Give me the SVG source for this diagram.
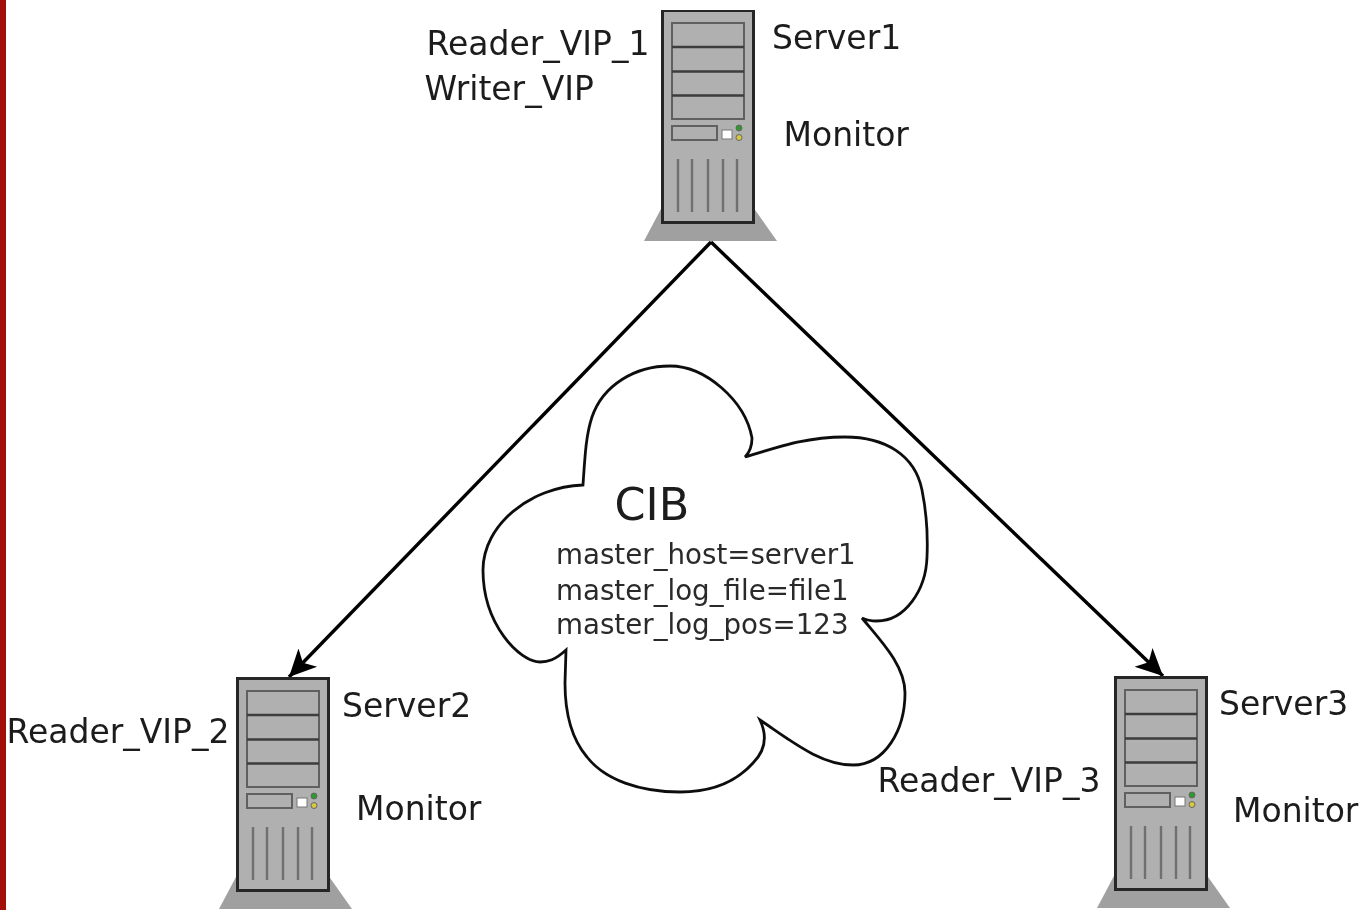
<svg xmlns="http://www.w3.org/2000/svg" width="1359" height="910" viewBox="0 0 1359 910">
<style>
text{font-family:"DejaVu Sans",sans-serif;fill:#1a1a1a}
.l{font-size:33px}
.s{font-size:27.700px;fill:#2a2a2a}
.c{fill:none;stroke:#000;stroke-width:3.400}
.b{fill:#a0a0a0}
.p{fill:#b0b0b0;stroke:#606060;stroke-width:2}
.v{stroke:#707070;stroke-width:2.400;fill:none}
</style>
<defs>
<filter id="soft" x="0" y="0" width="100%" height="100%"><feGaussianBlur stdDeviation="0.500"/></filter>
<marker id="a" markerUnits="userSpaceOnUse" markerWidth="32" markerHeight="32" refX="27" refY="14" orient="auto" viewBox="0 0 32 28"><path d="M27 14L0 1L7 14L0 27Z" fill="#000"/></marker>
<g id="srv">
<path d="M662 207L644 241H777L753 207Z" class="b"/>
<rect x="662.500" y="10.500" width="91" height="212" fill="#b0b0b0" stroke="#262626" stroke-width="3"/>
<rect x="672" y="23" width="72" height="96" class="p"/>
<path d="M672 47H744M672 71.500H744M672 95.500H744" stroke="#3c3c3c" stroke-width="2.500"/>
<rect x="672" y="126" width="45" height="14" class="p"/>
<rect x="722" y="130" width="10" height="9" fill="#fff" stroke="#777"/>
<circle cx="739" cy="128" r="3" fill="#2f9a2f" stroke="#666"/>
<circle cx="739" cy="137.500" r="3" fill="#d8c840" stroke="#666"/>
<path d="M678 159V212M692 159V212M708 159V212M723 159V212M737 159V212" class="v"/>
</g>
</defs>
<rect width="1359" height="910" fill="#fff"/>
<rect width="6" height="910" fill="#a20f0a"/>
<g filter="url(#soft)">
<g id="connectors">
<path d="M711 242L289 677" class="c" marker-end="url(#a)"/>
<path d="M711 242L1163 676" class="c" marker-end="url(#a)"/>
</g>
<g id="cloud">
<path d="M583 485C585 455 586 435 592 417C603 385 635 366 670 366C705 366 745 400 752 438C752 445 750 452 745 457C775 448 805 437 845 437C885 437 915 455 922 490C927 515 928 535 927 557C926 590 905 621 877 621C870 621 866 620 862 618C880 640 905 665 905 693C905 730 885 765 853 765C820 765 790 740 760 720C767 735 766 750 753 763C735 783 710 792 680 792C640 792 605 780 587 757C570 737 565 710 565 683L566 650C555 660 548 662 540 662C520 662 483 625 483 570C483 525 530 487 583 485Z" fill="#fff" stroke="#111" stroke-width="2.800"/>
<text x="614.500" y="520" font-size="44.500">CIB</text>
<text x="556" y="564" class="s">master_host=server1</text>
<text x="556" y="600" class="s">master_log_file=file1</text>
<text x="556" y="634" class="s">master_log_pos=123</text>
</g>
<g id="server1">
<use href="#srv"/>
<text x="426.500" y="55" class="l">Reader_VIP_1</text>
<text x="424.500" y="100" class="l">Writer_VIP</text>
<text x="772" y="49" class="l">Server1</text>
<text x="783.500" y="146" class="l">Monitor</text>
</g>
<g id="server2">
<use href="#srv" x="-425" y="668"/>
<text x="6.500" y="743" class="l">Reader_VIP_2</text>
<text x="342" y="717" class="l">Server2</text>
<text x="356" y="820" class="l">Monitor</text>
</g>
<g id="server3">
<use href="#srv" x="453" y="667"/>
<text x="877.500" y="792" class="l">Reader_VIP_3</text>
<text x="1219" y="715" class="l">Server3</text>
<text x="1233" y="822" class="l">Monitor</text>
</g>
</g>
</svg>
